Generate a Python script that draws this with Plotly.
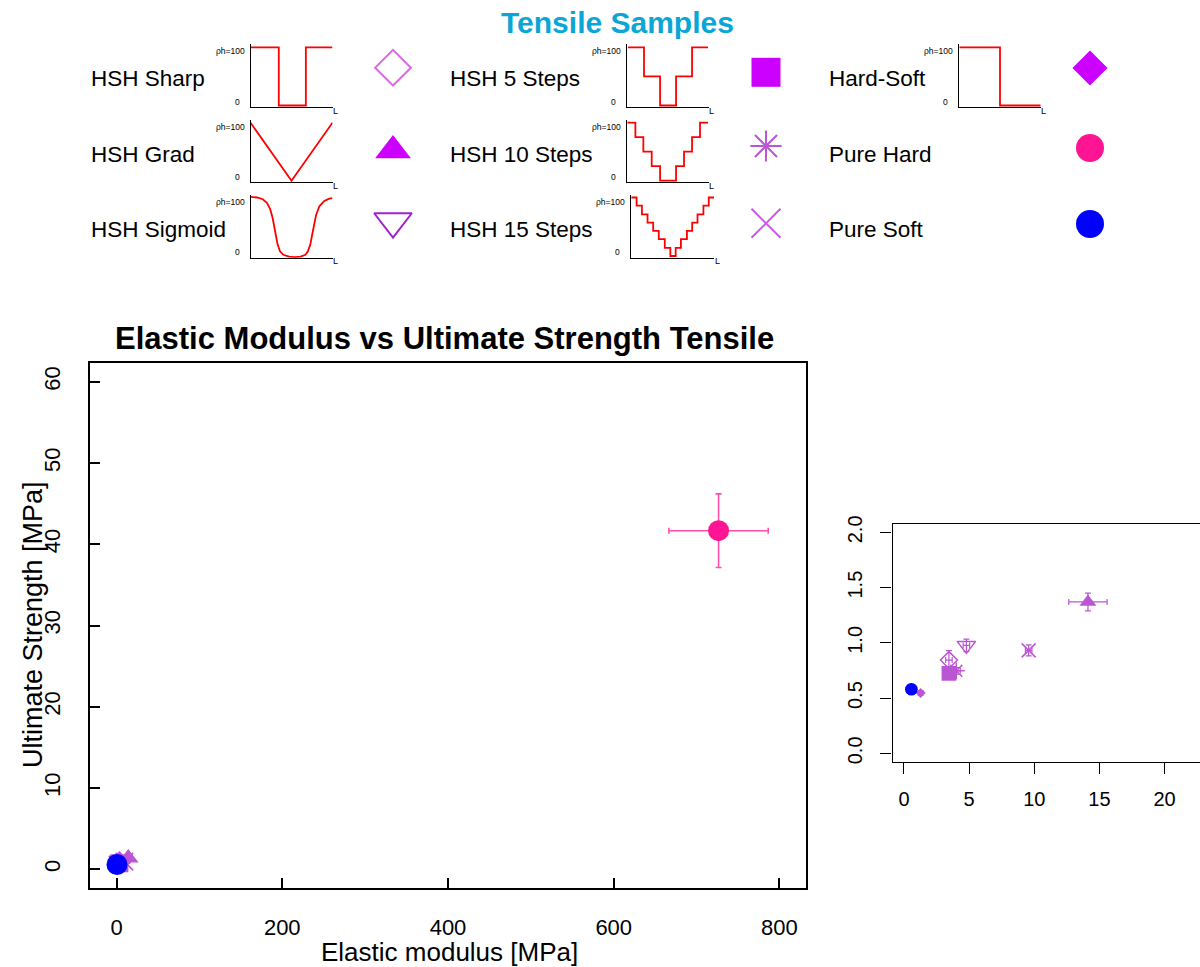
import plotly.graph_objects as go

W, H = 1200, 967


def px(x):
    return x / W


def py(y):
    return 1 - y / H


# ---------------- data ----------------
samples = ["HSH Sharp", "HSH Grad", "HSH Sigmoid", "HSH 5 Steps", "HSH 10 Steps",
           "HSH 15 Steps", "Hard-Soft", "Pure Hard", "Pure Soft"]
elastic_modulus = [3.45, 14.12, 4.79, 3.45, 4.02, 9.57, 1.28, 726.5, 0.57]
elastic_err = [0.25, 1.47, 0.25, 0.2, 0.3, 0.25, 0.1, 59.9, 0.1]
ult_strength = [0.844, 1.37, 0.977, 0.724, 0.747, 0.932, 0.546, 41.67, 0.58]
ult_err = [0.085, 0.08, 0.057, 0.04, 0.03, 0.05, 0.02, 4.53, 0.02]

main_xticks = [0, 200, 400, 600, 800]
main_yticks = [0, 10, 20, 30, 40, 50, 60]
inset_xticks = [0, 5, 10, 15, 20]
inset_yticks = [0.0, 0.5, 1.0, 1.5, 2.0]
inset_yticktext = ["0.0", "0.5", "1.0", "1.5", "2.0"]

# hardness profiles (position along L normalised, rho_h in %)
prof_sharp_L = [0, 0.345, 0.345, 0.675, 0.675, 1.0]
prof_sharp_h = [100, 100, 0, 0, 100, 100]
prof_grad_L = [0, 0.5, 1.0]
prof_grad_h = [100, 0, 100]
prof_sig_L = [0.00, 0.08, 0.15, 0.20, 0.24, 0.27, 0.29, 0.31, 0.33, 0.36, 0.40, 0.47,
              0.54, 0.61, 0.67, 0.70, 0.73, 0.75, 0.77, 0.80, 0.84, 0.90, 0.96, 1.00]
prof_sig_h = [101, 100, 97, 91, 80, 65, 50, 35, 20, 8, 2, -1,
              -2, -1, 2, 8, 20, 35, 52, 70, 85, 94, 98, 99]
prof_5_L = [0.016, 0.211, 0.211, 0.407, 0.407, 0.602, 0.602, 0.797, 0.797, 0.992]
prof_5_h = [100, 100, 50, 50, 0, 0, 50, 50, 100, 100]
prof_10_L = [0.008, 0.106, 0.106, 0.203, 0.203, 0.305, 0.305, 0.407, 0.407, 0.602,
             0.602, 0.699, 0.699, 0.797, 0.797, 0.894, 0.894, 0.992]
prof_10_h = [100, 100, 75, 75, 50, 50, 25, 25, 0, 0, 25, 25, 50, 50, 75, 75, 100, 100]
prof_15_L = [0.008, 0.071, 0.071, 0.135, 0.135, 0.202, 0.202, 0.270, 0.270, 0.337,
             0.337, 0.409, 0.409, 0.476, 0.476, 0.540, 0.540, 0.603, 0.603, 0.675,
             0.675, 0.738, 0.738, 0.802, 0.802, 0.873, 0.873, 0.937, 0.937, 1.0]
prof_15_h = [100, 100, 86, 86, 71, 71, 57, 57, 43, 43, 29, 29, 14, 14, 0, 0,
             14, 14, 29, 29, 43, 43, 57, 57, 71, 71, 86, 86, 100, 100]
prof_hs_L = [0, 0.5, 0.5, 1.0]
prof_hs_h = [100, 100, 0, 0]

profiles = {
    "HSH Sharp": (prof_sharp_L, prof_sharp_h),
    "HSH Grad": (prof_grad_L, prof_grad_h),
    "HSH Sigmoid": (prof_sig_L, prof_sig_h),
    "HSH 5 Steps": (prof_5_L, prof_5_h),
    "HSH 10 Steps": (prof_10_L, prof_10_h),
    "HSH 15 Steps": (prof_15_L, prof_15_h),
    "Hard-Soft": (prof_hs_L, prof_hs_h),
}

# ---------------- styles ----------------
ORCHID = "#BA55D3"
plot_color = {s: ORCHID for s in samples}
plot_color["Pure Hard"] = "#FF1493"
plot_color["Pure Soft"] = "#0000FF"
err_color = {s: ORCHID for s in samples}
err_color["Pure Hard"] = "#FF4FAA"
err_color["Pure Soft"] = "#0000FF"

symbol = {
    "HSH Sharp": "diamond-open", "HSH Grad": "triangle-up", "HSH Sigmoid": "triangle-down-open",
    "HSH 5 Steps": "square", "HSH 10 Steps": "asterisk-open", "HSH 15 Steps": "x-thin-open",
    "Hard-Soft": "diamond", "Pure Hard": "circle", "Pure Soft": "circle",
}
size_inset = {"HSH Sharp": 13, "HSH Grad": 14.7, "HSH Sigmoid": 16, "HSH 5 Steps": 14.7,
              "HSH 10 Steps": 14, "HSH 15 Steps": 14, "Hard-Soft": 7.7,
              "Pure Hard": 12.7, "Pure Soft": 12.7}
size_main = {"HSH Sharp": 16, "HSH Grad": 18, "HSH Sigmoid": 20, "HSH 5 Steps": 18,
             "HSH 10 Steps": 17.5, "HSH 15 Steps": 17.5, "Hard-Soft": 10,
             "Pure Hard": 21, "Pure Soft": 21}
legend_color = {
    "HSH Sharp": "#DA6BE0", "HSH Grad": "#CC00FF", "HSH Sigmoid": "#A020D0",
    "HSH 5 Steps": "#CC00FF", "HSH 10 Steps": ORCHID, "HSH 15 Steps": "#C85CE6",
    "Hard-Soft": "#CC00FF", "Pure Hard": "#FF1493", "Pure Soft": "#0000FF",
}
legend_size = {"HSH Sharp": 27.5, "HSH Grad": 31, "HSH Sigmoid": 32.6, "HSH 5 Steps": 29,
               "HSH 10 Steps": 26, "HSH 15 Steps": 29, "Hard-Soft": 27,
               "Pure Hard": 28, "Pure Soft": 28}

draw_order = ["HSH Sharp", "HSH Grad", "HSH Sigmoid", "HSH 10 Steps", "HSH 15 Steps",
              "HSH 5 Steps", "Hard-Soft", "Pure Hard", "Pure Soft"]

# legend grid layout (pixels)
legend_cols = [
    dict(label_x=88.5, plot_l=250.5, plot_r=332.5, marker_x=393,
         items=["HSH Sharp", "HSH Grad", "HSH Sigmoid"]),
    dict(label_x=447.5, plot_l=626.7, plot_r=708.7, marker_x=766,
         items=["HSH 5 Steps", "HSH 10 Steps", "HSH 15 Steps"]),
    dict(label_x=826.5, plot_l=959.3, plot_r=1040.7, marker_x=1090,
         items=["Hard-Soft", "Pure Hard", "Pure Soft"]),
]
row_label_y = [78, 154, 230]
row_top = [47.3, 122.7, 197.5]
row_bot = [105.5, 180.7, 256.0]
marker_y = {"HSH Sharp": 67.7, "HSH Grad": 150.6, "HSH Sigmoid": 221.4,
            "HSH 5 Steps": 72.3, "HSH 10 Steps": 146, "HSH 15 Steps": 223.3,
            "Hard-Soft": 68, "Pure Hard": 148, "Pure Soft": 224}

FONT = "Liberation Sans, Arial, sans-serif"
fig = go.Figure()
layout = dict(
    width=W, height=H, margin=dict(l=0, r=0, t=0, b=0, pad=0, autoexpand=False),
    paper_bgcolor="white", plot_bgcolor="rgba(0,0,0,0)",
    showlegend=False, font=dict(family=FONT, color="black"),
)
annotations = []

# ---------------- main plot + inset ----------------
for s in draw_order:
    i = samples.index(s)
    for ax, sz, thick, cap in (("", size_main, 1.6, 3), ("2", size_inset, 1.2, 3)):
        open_sym = symbol[s].endswith("open")
        fig.add_trace(go.Scatter(
            x=[elastic_modulus[i]], y=[ult_strength[i]], mode="markers",
            xaxis="x" + ax, yaxis="y" + ax,
            marker=dict(symbol=symbol[s], size=sz[s], color=plot_color[s],
                        line=dict(width=1.5 if open_sym else 0, color=plot_color[s])),
            error_x=dict(type="data", array=[elastic_err[i]], color=err_color[s],
                         thickness=thick, width=cap),
            error_y=dict(type="data", array=[ult_err[i]], color=err_color[s],
                         thickness=thick, width=cap),
            cliponaxis=True, hoverinfo="skip",
        ))

main_y0, main_y1 = 888.3, 362.7
layout["xaxis"] = dict(
    domain=[px(90), px(806)], range=[-32, 832], anchor="y", automargin=False,
    showline=True, mirror=True, linecolor="black", linewidth=2,
    ticks="inside", ticklen=10, tickwidth=1.5, tickcolor="black",
    tickvals=main_xticks, tickfont=dict(size=22, family=FONT, color="black"),
    showgrid=False, zeroline=False, ticklabelstandoff=18,
)
layout["yaxis"] = dict(
    domain=[py(main_y0), py(main_y1)], range=[-2.35, 62.35], anchor="x", automargin=False,
    showline=True, mirror=True, linecolor="black", linewidth=2,
    ticks="inside", ticklen=10, tickwidth=1.5, tickcolor="black",
    tickvals=main_yticks, tickangle=-90, tickfont=dict(size=22, family=FONT, color="black"),
    showgrid=False, zeroline=False, ticklabelstandoff=19,
)
layout["xaxis2"] = dict(
    domain=[px(892.5), 1.0], range=[-0.88, -0.88 + 307.5 / 13.03], anchor="y2",
    automargin=False,
    showline=True, mirror=True, linecolor="black", linewidth=1.3,
    ticks="outside", ticklen=11, tickwidth=1.3, tickcolor="black",
    tickvals=inset_xticks, tickfont=dict(size=20, family=FONT, color="black"),
    showgrid=False, zeroline=False, ticklabelstandoff=8,
)
layout["yaxis2"] = dict(
    domain=[py(762.2), py(523.5)], range=[-0.08, 2.08], anchor="x2", automargin=False,
    showline=True, mirror=False, linecolor="black", linewidth=1.3,
    ticks="outside", ticklen=11, tickwidth=1.3, tickcolor="black",
    tickvals=inset_yticks, ticktext=inset_yticktext, tickangle=-90,
    tickfont=dict(size=20, family=FONT, color="black"),
    showgrid=False, zeroline=False, ticklabelstandoff=10,
)

# ---------------- legend mini profile plots ----------------
ax_n = 3
for col in legend_cols:
    for r, s in enumerate(col["items"]):
        annotations.append(dict(
            x=px(col["label_x"]), y=py(row_label_y[r]), xref="paper", yref="paper",
            text=s, showarrow=False, xanchor="left", yanchor="middle",
            font=dict(size=22.5, family=FONT, color="black")))
        if s not in profiles:
            continue
        L, h = profiles[s]
        pl, pr = col["plot_l"], col["plot_r"]
        if s == "HSH 15 Steps":
            pl, pr = 630.7, 714.0
        top, bot = row_top[r], row_bot[r]
        sc = (bot - top) / 100.0
        ylo, yhi = -3, 105
        xa, ya = "xaxis%d" % ax_n, "yaxis%d" % ax_n
        layout[xa] = dict(domain=[px(pl), px(pr)], range=[0, 1], anchor="y%d" % ax_n,
                          automargin=False,
                          showline=True, linecolor="black", linewidth=1.2, ticks="",
                          showticklabels=False, showgrid=False, zeroline=False)
        layout[ya] = dict(domain=[py(bot - ylo * sc), py(bot - yhi * sc)], range=[ylo, yhi],
                          anchor="x%d" % ax_n, automargin=False, showline=True,
                          linecolor="black", linewidth=1.2, ticks="",
                          showticklabels=False, showgrid=False, zeroline=False)
        fig.add_trace(go.Scatter(x=L, y=h, mode="lines", xaxis="x%d" % ax_n,
                                 yaxis="y%d" % ax_n, line=dict(color="#FF0000", width=1.8),
                                 hoverinfo="skip"))
        annotations.append(dict(x=px(pl - 4), y=py(top + 4), xref="paper", yref="paper",
                                text="ρh=100", showarrow=False, xanchor="right",
                                yanchor="middle",
                                font=dict(size=8.5, family=FONT, color="black")))
        annotations.append(dict(x=px(pl - 9), y=py(bot - 4), xref="paper", yref="paper",
                                text="0", showarrow=False, xanchor="right",
                                yanchor="middle",
                                font=dict(size=8.5, family=FONT, color="black")))
        annotations.append(dict(x=px(pr + 3), y=py(bot + 5), xref="paper", yref="paper",
                                text="L", showarrow=False, xanchor="center",
                                yanchor="middle",
                                font=dict(size=9, family=FONT, color="black")))
        ax_n += 1

# legend marker swatches on a pixel overlay axis
ov = ax_n
layout["xaxis%d" % ov] = dict(domain=[0, 1], range=[0, W], visible=False, anchor="y%d" % ov,
                              fixedrange=True, automargin=False)
layout["yaxis%d" % ov] = dict(domain=[0, 1], range=[H, 0], visible=False, anchor="x%d" % ov,
                              fixedrange=True, automargin=False)
for col in legend_cols:
    for s in col["items"]:
        open_sym = symbol[s].endswith("open")
        fig.add_trace(go.Scatter(
            x=[col["marker_x"]], y=[marker_y[s]], mode="markers",
            xaxis="x%d" % ov, yaxis="y%d" % ov,
            marker=dict(symbol=symbol[s], size=legend_size[s], color=legend_color[s],
                        line=dict(width=2 if open_sym else 0, color=legend_color[s])),
            hoverinfo="skip"))

# ---------------- titles ----------------
annotations += [
    dict(x=px(617), y=py(22), xref="paper", yref="paper", text="<b>Tensile Samples</b>",
         showarrow=False, xanchor="center", yanchor="middle",
         font=dict(size=30, family=FONT, color="#0AA6D6")),
    dict(x=px(444), y=py(338), xref="paper", yref="paper",
         text="<b>Elastic Modulus vs Ultimate Strength Tensile</b>",
         showarrow=False, xanchor="center", yanchor="middle",
         font=dict(size=31, family=FONT, color="black")),
    dict(x=px(449), y=py(952), xref="paper", yref="paper", text="Elastic modulus [MPa]",
         showarrow=False, xanchor="center", yanchor="middle", borderpad=0,
         font=dict(size=26, family=FONT, color="black")),
    dict(x=px(33), y=py(625), xref="paper", yref="paper", text="Ultimate Strength [MPa]",
         showarrow=False, xanchor="center", yanchor="middle", textangle=-90,
         font=dict(size=27, family=FONT, color="black")),
]
layout["annotations"] = annotations
fig.update_layout(**layout)
fig.write_html("out.html")
